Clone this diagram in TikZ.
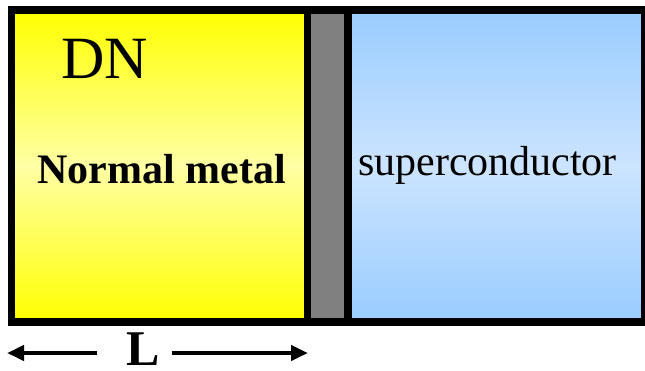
\documentclass[tikz,border=0pt]{standalone}
\usepackage{fontspec}
\setmainfont{Liberation Serif}
\usetikzlibrary{arrows.meta}
\begin{document}
\begin{tikzpicture}[x=1pt,y=-1pt,
  frame/.style={line width=7.5pt,draw=black},
  lbl/.style={inner sep=0pt,anchor=base},
  dimarrow/.style={line width=4.5pt,-{Triangle[length=17pt,width=15pt]}}]
\useasboundingbox (0,0) rectangle (645,370);
% regions
\shade[top color={rgb,255:red,255;green,255;blue,0},bottom color={rgb,255:red,255;green,255;blue,0},middle color={rgb,255:red,255;green,255;blue,165}] (11.5,10) rectangle (307.5,322);
\fill[fill={rgb,255:red,128;green,128;blue,128}] (307.5,10) rectangle (348,322);
\shade[top color={rgb,255:red,153;green,204;blue,255},bottom color={rgb,255:red,153;green,204;blue,255},middle color={rgb,255:red,204;green,228;blue,255}] (348,10) rectangle (645,322);
% frames
\draw[frame] (11.5,10) rectangle (645,322);
\draw[frame] (307.5,10) -- (307.5,322);
\draw[frame] (348,10) -- (348,322);
% labels
\node[lbl,font=\fontsize{60}{60}\selectfont] (dn) at (105,78) {DN};
\node[lbl,font=\fontsize{42}{42}\selectfont\bfseries] (nm) at (161.5,183) {Normal metal};
\node[lbl,font=\fontsize{42}{42}\selectfont] (sc) at (487.5,175) {superconductor};
\node[lbl,font=\fontsize{50}{50}\selectfont\bfseries] (len) at (143,365) {L};
% dimension arrows
\coordinate (la) at (97,353);
\coordinate (lb) at (7,353);
\coordinate (ra) at (172,353);
\coordinate (rb) at (308,353);
\draw[dimarrow] (la) -- (lb);
\draw[dimarrow] (ra) -- (rb);
\end{tikzpicture}
\end{document}
